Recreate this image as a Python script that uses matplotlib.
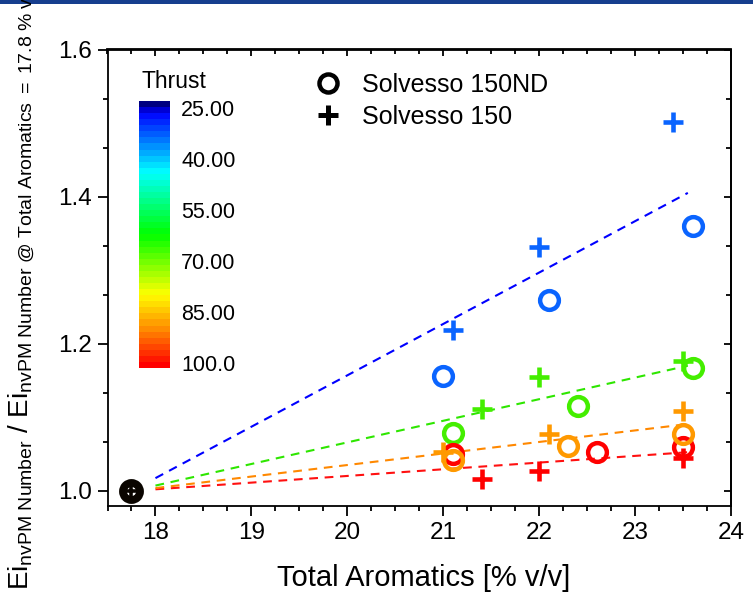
import numpy as np
import matplotlib
matplotlib.use("Agg")
import matplotlib.pyplot as plt
from matplotlib.colors import LinearSegmentedColormap, Normalize
from matplotlib.ticker import MultipleLocator, AutoMinorLocator, FormatStrFormatter
from matplotlib.lines import Line2D
from matplotlib.patches import Rectangle

plt.rcParams["font.family"] = ["Liberation Sans", "DejaVu Sans"]
plt.rcParams["mathtext.fontset"] = "custom"
plt.rcParams["mathtext.rm"] = "Liberation Sans"
plt.rcParams["mathtext.it"] = "Liberation Sans:italic"
plt.rcParams["mathtext.bf"] = "Liberation Sans:bold"

# ---- data -------------------------------------------------------------
ref_aromatics = 17.75
ref_ratio = 1.0

thrust_levels = [33, 66, 88, 100]

# Solvesso 150ND (circles), one list per thrust level
nd150_aromatics = [[21.0, 22.1, 23.6],
                   [21.1, 22.4, 23.6],
                   [21.1, 22.3, 23.5],
                   [21.1, 22.6, 23.5]]
nd150_ratio = [[1.156, 1.260, 1.360],
               [1.079, 1.116, 1.167],
               [1.042, 1.061, 1.077],
               [1.050, 1.053, 1.060]]

# Solvesso 150 (plus signs)
s150_aromatics = [[21.1, 22.0, 23.4],
                  [21.4, 22.0, 23.5],
                  [21.0, 22.1, 23.5],
                  [21.4, 22.0, 23.5]]
s150_ratio = [[1.219, 1.332, 1.502],
              [1.112, 1.155, 1.176],
              [1.053, 1.078, 1.109],
              [1.016, 1.027, 1.045]]

fit_range = [18.0, 23.55]

cbar_ticks = [25, 40, 55, 70, 85, 100]
cbar_ticklabels = ["25.00", "40.00", "55.00", "70.00", "85.00", "100.0"]

# ---- styles -----------------------------------------------------------
marker_colors = ["#0a64ff", "#44ee00", "#ff9900", "#ff0000"]
line_colors = ["#0000ff", "#2ee600", "#ff8800", "#ff1010"]
draw_order = [0, 1, 3, 2]

W, H = 753, 592
fig = plt.figure(figsize=(W / 100, H / 100), dpi=100)

# thin banner along the top edge
fig.patches.append(Rectangle((0, 1 - 4 / H), 1, 4 / H, transform=fig.transFigure,
                             facecolor="#163e8e", edgecolor="none", zorder=0))

ax = fig.add_axes([107.5 / W, 1 - 505.7 / H, (731 - 107.5) / W, (505.7 - 49.5) / H])
ax.set_xlim(17.5, 24.0)
ax.set_ylim(0.98, 1.6)

for k, i in enumerate(draw_order):
    xs = np.array(nd150_aromatics[i] + s150_aromatics[i])
    ys = np.array(nd150_ratio[i] + s150_ratio[i])
    dx = xs - ref_aromatics
    dy = ys - ref_ratio
    slope = np.sum(dx * dy) / np.sum(dx * dx)
    fx = np.array(fit_range)
    fy = ref_ratio + slope * (fx - ref_aromatics)
    ax.plot(fx, fy, ls=(0, (4.2, 3.2)), lw=1.5, color=line_colors[i], zorder=2 + k * 0.01)
    ax.plot(s150_aromatics[i], s150_ratio[i], ls="none", marker="+", ms=14.5, mew=3.3,
            color=marker_colors[i], zorder=3 + k * 0.1)
    ax.plot(nd150_aromatics[i], nd150_ratio[i], ls="none", marker="o", ms=13.5, mew=3.2,
            mfc="none", mec=marker_colors[i], zorder=3.05 + k * 0.1)

# common reference point
ax.plot([ref_aromatics], [ref_ratio], ls="none", marker="o", ms=12.3, mew=5.6,
        mfc="none", mec="#0a0500", zorder=5)
ax.plot([ref_aromatics], [ref_ratio], ls="none", marker="+", ms=12, mew=2.6,
        color="#0a0500", zorder=5.1)

# axes, ticks
for s in ax.spines.values():
    s.set_linewidth(1.3)
ax.xaxis.set_major_locator(MultipleLocator(1))
ax.xaxis.set_minor_locator(AutoMinorLocator(4))
ax.yaxis.set_major_locator(MultipleLocator(0.2))
ax.yaxis.set_minor_locator(AutoMinorLocator(3))
ax.yaxis.set_major_formatter(FormatStrFormatter("%.1f"))
ax.tick_params(which="major", direction="out", length=7, width=1.3, labelsize=17.5)
ax.tick_params(which="minor", direction="out", length=3.5, width=1.3)
ax.tick_params(axis="x", which="major", pad=5)
ax.tick_params(axis="y", which="major", pad=4)

top = ax.secondary_xaxis("top")
top.xaxis.set_major_locator(MultipleLocator(1))
top.xaxis.set_minor_locator(AutoMinorLocator(4))
top.tick_params(which="major", direction="in", length=5, width=1.3, labeltop=False)
top.tick_params(which="minor", direction="in", length=3.5, width=1.3)
top.spines["top"].set_linewidth(1.3)
right = ax.secondary_yaxis("right")
right.yaxis.set_major_locator(MultipleLocator(0.2))
right.yaxis.set_minor_locator(AutoMinorLocator(3))
right.tick_params(which="major", direction="in", length=5, width=1.3, labelright=False)
right.tick_params(which="minor", direction="in", length=3.5, width=1.3)
right.spines["right"].set_linewidth(1.3)

ax.set_xlabel("Total Aromatics [% v/v]", fontsize=21)
ax.xaxis.set_label_coords((424 - 107.5) / (731 - 107.5), -(586 - 505.7) / (505.7 - 49.5))
ax.xaxis.label.set_va("baseline")

ylabel = (r"$\mathregular{Ei_{nvPM\ Number}\ /\ "
          r"Ei_{nvPM\ Number\ @\ Total\ Aromatics\ =\ 17.8\ \%\ v/v}}$")
fig.text(7 / W, 1 - 590 / H, ylabel, rotation=90, fontsize=20, ha="left", va="bottom")

# legend
handles = [Line2D([], [], ls="none", marker="o", ms=13, mfc="none", mec="k", mew=3.2),
           Line2D([], [], ls="none", marker="+", ms=14, color="k", mew=3.6)]
ax.legend(handles, ["Solvesso 150ND", "Solvesso 150"], loc="upper left",
          bbox_to_anchor=(315.8 / W, 1 - 73 / H), bbox_transform=fig.transFigure,
          frameon=False, fontsize=18, handlelength=1.0, handletextpad=0.85,
          labelspacing=0.3, borderpad=0, borderaxespad=0)

# thrust colour bar
anchors = [(0.0, "#000080"), (0.035, "#0000ff"), (0.26, "#00ffff"), (0.5, "#00ff00"),
           (0.73, "#ffff00"), (0.86, "#ff8c00"), (1.0, "#ff0000")]
cmap = LinearSegmentedColormap.from_list("thrust", anchors, N=44)
lo, hi = 22.94, 101.47
cax = fig.add_axes([139 / W, 1 - 368 / H, 31 / W, 267 / H])
edges = np.linspace(lo, hi, 441)
mids = 0.5 * (edges[:-1] + edges[1:])
cax.pcolormesh([0, 1], edges, mids[:, None], cmap=cmap, norm=Normalize(lo, hi),
               shading="flat")
cax.set_ylim(hi, lo)
cax.set_xlim(0, 1)
cax.set_xticks([])
cax.yaxis.tick_right()
cax.set_yticks(cbar_ticks)
cax.set_yticklabels(cbar_ticklabels)
cax.tick_params(axis="y", length=0, pad=8, labelsize=15.5)
for s in cax.spines.values():
    s.set_visible(False)
fig.text(141 / W, 1 - 82 / H, "Thrust", fontsize=16.5, ha="left", va="center")

fig.savefig("out.png", dpi=100)
